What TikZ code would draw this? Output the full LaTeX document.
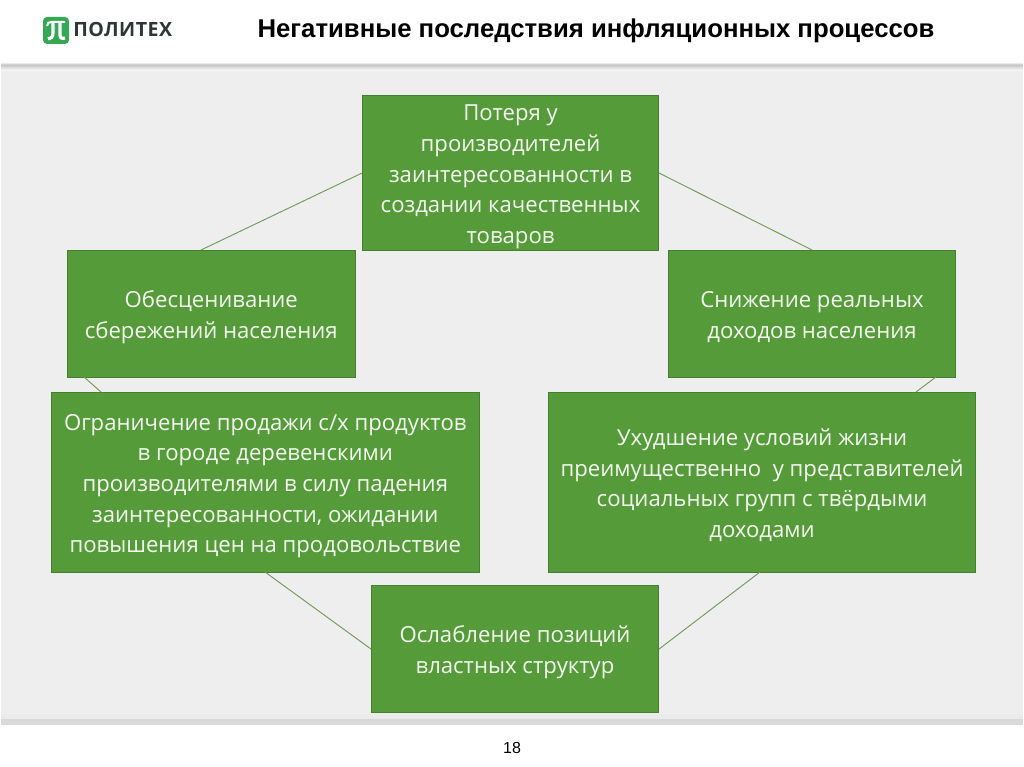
\documentclass[tikz,border=0pt]{standalone}
\usepackage{fontspec}
\setmainfont{Open Sans}
\newfontfamily\arialf{Liberation Sans}
\newfontfamily\logof[LetterSpace=2.5]{Open Sans}
\usetikzlibrary{calc}
\definecolor{boxgreen}{HTML}{559B3A}
\definecolor{boxedge}{HTML}{437F2C}
\definecolor{linegreen}{HTML}{6E9C58}
\definecolor{panelgrey}{HTML}{EEEEEE}
\definecolor{logogreen}{HTML}{35A853}
\definecolor{logotext}{HTML}{2F3636}
\definecolor{boxtext}{HTML}{F4F8F0}
\tikzset{
  x=0.75pt,y=-0.75pt,
  gbox/.style={draw=boxedge,line width=0.8pt,fill=boxgreen,text=boxtext,inner sep=0pt,
    font=\fontsize{16.6}{23}\selectfont,anchor=north west},
  conn/.style={draw=linegreen,line width=0.7pt},
}
\newcommand{\gnode}[6]{\node[gbox,minimum width=#4*0.75pt,minimum height=#5*0.75pt] (#1) at (#2,#3)
  {\raisebox{-2.2pt}[\height][\depth]{\begin{tabular}{@{}c@{}}#6\end{tabular}}};}
\begin{document}
\begin{tikzpicture}
\useasboundingbox (0,0) rectangle (1024,767);
\fill[white] (0,0) rectangle (1024,767);
% panel
\fill[panelgrey] (1,65) rectangle (1023,724);
\foreach \y/\c in {63/8,64/18,65/22,66/18,67/14,68/10,69/7,70/4}{
  \fill[black!\c] (1,\y) rectangle (1023,\y+1);}
\fill[black!8] (1,714) rectangle (1023,719);
\fill[black!15] (1,719) rectangle (1023,725);
% header
\fill[logogreen,rounded corners=3pt] (43,17) rectangle (69,44);
\draw[white,line width=1.5pt] (47,26) .. controls (47,23) and (49,22) .. (51,22) -- (65,22);
\draw[white,line width=2.4pt] (53,22) -- (53,33) .. controls (53,37) and (51,39) .. (48,39);
\draw[white,line width=2.4pt] (60,22) -- (60,35) .. controls (60,38) and (62,39) .. (65,38);
\node[font=\logof\fontsize{14.7}{16}\bfseries,text=logotext,anchor=west,inner sep=0pt] (logo) at (73,30) {ПОЛИТЕХ};
\node[font=\arialf\fontsize{19.3}{22}\bfseries,text=black,inner sep=0pt] (title) at (596,31) {Негативные последствия инфляционных процессов};
\node[font=\arialf\fontsize{12}{14}\selectfont,text=black,inner sep=0pt] (pnum) at (512,748) {18};
% boxes
\gnode{top}{362}{95}{296}{155}{Потеря у\\производителей\\заинтересованности в\\создании качественных\\товаров}
\gnode{left}{67}{250}{287.5}{127}{Обесценивание\\сбережений населения}
\gnode{right}{668}{250}{287}{127}{Снижение реальных\\доходов населения}
\gnode{lowl}{51}{392}{427.5}{180}{Ограничение продажи с/х продуктов\\в городе деревенскими\\производителями в силу падения\\заинтересованности, ожидании\\повышения цен на продовольствие}
\gnode{lowr}{548}{392}{427}{180}{Ухудшение условий жизни\\преимущественно\ \ у представителей\\социальных групп с твёрдыми\\доходами}
\gnode{bot}{371}{585}{287}{127}{Ослабление позиций\\властных структур}
% connectors
\coordinate (la) at (201,250);
\coordinate (lb) at (84,377);
\coordinate (lc) at (101,392);
\coordinate (ra) at (936,377);
\coordinate (rb) at (916,392);
\coordinate (ld) at (265,572);
\coordinate (rd) at (760,572);
\draw[conn] (top.west) -- (la);
\draw[conn] (top.east) -- (right.north);
\draw[conn] (lb) -- (lc);
\draw[conn] (ra) -- (rb);
\draw[conn] (ld) -- (bot.west);
\draw[conn] (rd) -- (bot.east);
\end{tikzpicture}
\end{document}
